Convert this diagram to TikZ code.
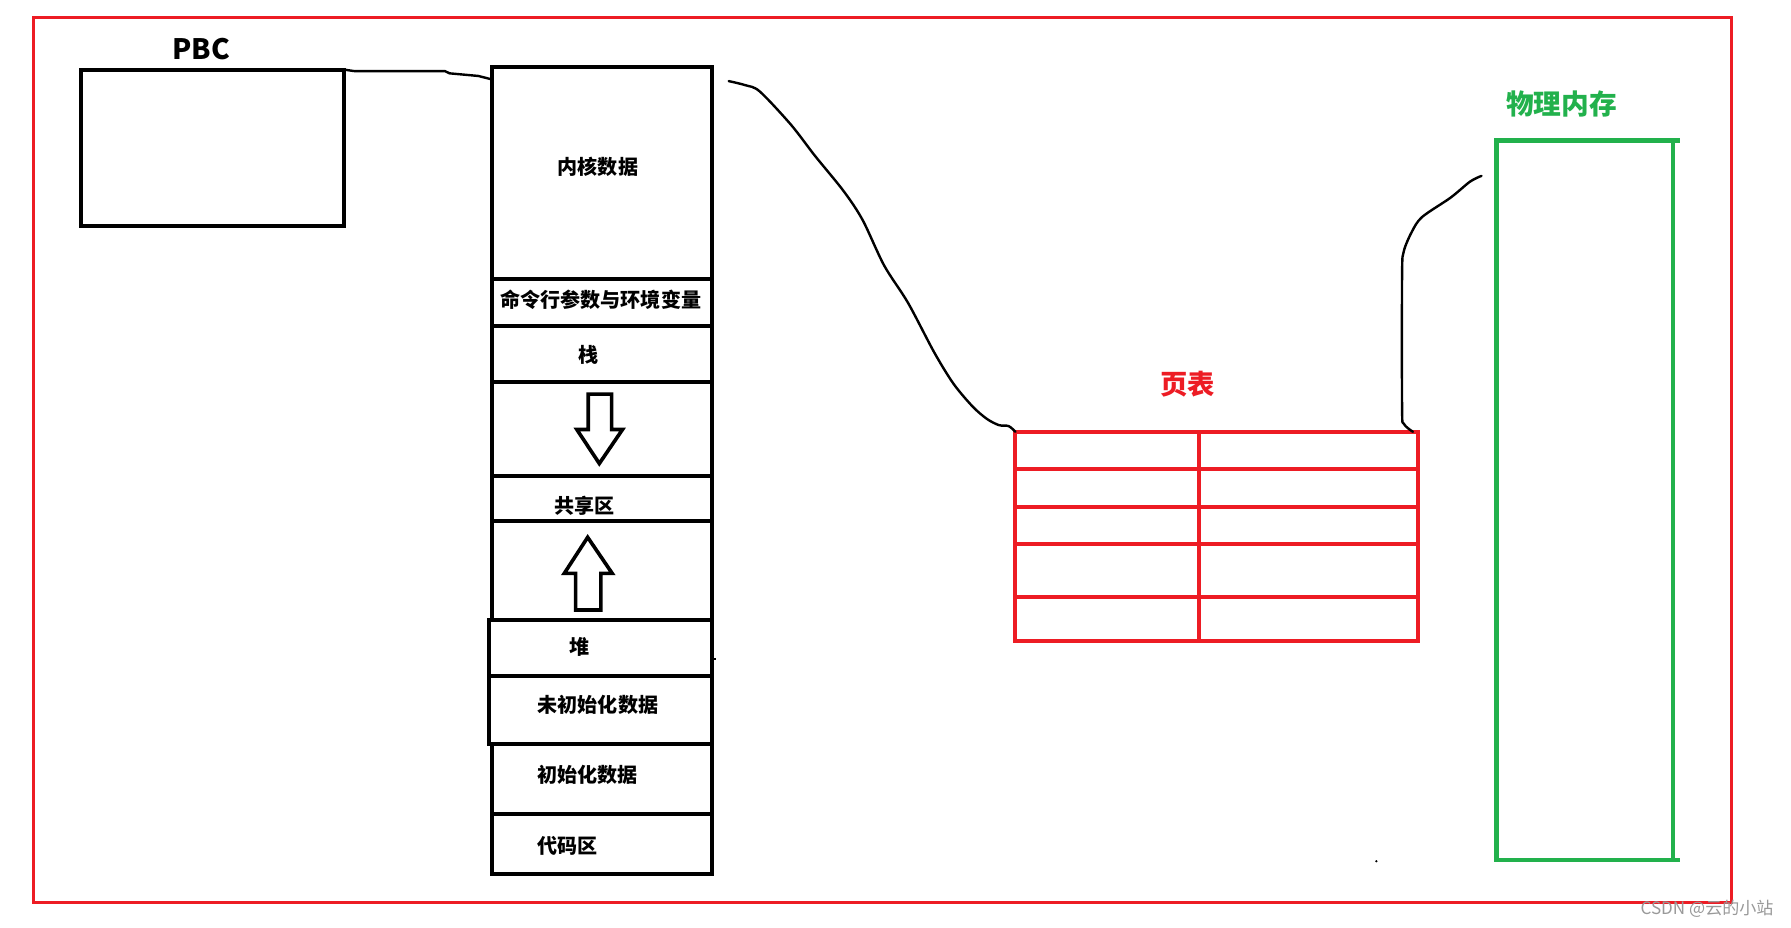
\documentclass[tikz,border=0pt]{standalone}
\usepackage{fontspec}
\newfontfamily\cjk{Noto Sans CJK SC}
\usetikzlibrary{fit}
\definecolor{pred}{HTML}{ED1C24}
\definecolor{pgreen}{HTML}{22B14C}
\tikzset{
  blk/.style={draw=black, line width=2pt, inner sep=0pt, outer sep=0pt},
  lbl/.style={font=\cjk\bfseries\fontsize{10}{12}\selectfont, inner sep=0pt},
  wire/.style={draw=black, line width=1.2pt, line cap=round, line join=round},
  tbl/.style={draw=pred, line width=2pt},
  hollow/.style={draw=black, line width=1.8pt, fill=white, line join=miter},
  grn/.style={draw=pgreen, line width=2.2pt},
}
\begin{document}
\begin{tikzpicture}[x=0.02cm,y=-0.02cm]
\useasboundingbox (0,0) rectangle (1568,812);
\fill[white] (0,0) rectangle (1568,812);
% outer red frame
\draw[pred, line width=1.4pt] (29.5,15.5) rectangle (1516,790);

% PBC
\node[blk, fit={(71,61) (301.5,197.5)}] (pbc) {};
\node[font=\cjk\bfseries\fontsize{14}{16}\selectfont, inner sep=0pt] (pbct) at (176,42.5) {PBC};

% address space column
\node[blk, fit={(430.5,59) (623.5,244)}] (kern) {};
\node[blk, fit={(430.5,244) (623.5,285)}] (cmd) {};
\node[blk, fit={(430.5,285) (623.5,334)}] (stk) {};
\node[blk, fit={(430.5,334) (623.5,416.5)}] (gapa) {};
\node[blk, fit={(430.5,416.5) (623.5,456.5)}] (shr) {};
\node[blk, fit={(430.5,456.5) (623.5,543)}] (gapb) {};
\node[blk, fit={(428,543) (623.5,591.5)}] (heap) {};
\node[blk, fit={(428,591.5) (623.5,651.5)}] (bss) {};
\node[blk, fit={(430.5,651.5) (623.5,712.5)}] (data) {};
\node[blk, fit={(430.5,712.5) (623.5,765.5)}] (code) {};
\draw[line width=1.2pt] (heap.east |- 0,577) -- ++(3,0);

\node[lbl] (tkern) at (523.5,146) {内核数据};
\node[lbl] (tcmd) at (526,262.5) {命令行参数与环境变量};
\node[lbl] (tstk) at (515,311) {栈};
\node[lbl] (tshr) at (512,443) {共享区};
\node[lbl] (theap) at (507,566.5) {堆};
\node[lbl] (tbss) at (523.5,617.5) {未初始化数据};
\node[lbl] (tdata) at (514.5,678.5) {初始化数据};
\node[lbl] (tcode) at (497,740.5) {代码区};

% growth arrows
\draw[hollow] (515,345) -- (535.5,345) -- (535.5,376) -- (545,376) -- (524.7,405.8) -- (505,376) -- (515,376) -- cycle;
\draw[hollow] (514.5,470.4) -- (536,502) -- (526,502) -- (526,534) -- (504,534) -- (504,502) -- (494,502) -- cycle;

% page table
\node[tbl, inner sep=0pt, outer sep=0pt, fit={(889,378) (1241,561)}] (pt) {};
\draw[tbl] (pt.north -| 1049.8,0) -- (pt.south -| 1049.8,0);
\foreach \y in {410.3,444.1,476.4,522.9} \draw[tbl] (pt.west |- 0,\y) -- (pt.east |- 0,\y);
\node[font=\cjk\bfseries\fontsize{13.6}{16}\selectfont, text=pred, inner sep=0pt] (ptl) at (1040,336) {页表};

% physical memory
\node[grn, inner sep=0pt, outer sep=0pt, fit={(1310,123) (1464.5,753)}] (pm) {};
\draw[grn] (pm.north east) -- ++(6.5,0);
\draw[grn] (pm.south east) -- ++(6.5,0);
\node[font=\cjk\bfseries\fontsize{13.8}{16}\selectfont, text=pgreen, inner sep=0pt] (pml) at (1367,91) {物理内存};

% connectors
\draw[wire] (pbc.north east) -- (310,62.2) -- (389.4,62.2) -- (393.6,64.2) -- (418.8,66.5) -- ([shift={(0,10.5)}]kern.north west);

\coordinate (ka) at (638,71);
\draw[wire] plot[smooth, tension=0.5] coordinates {(ka) (652.6,74.6) (665.2,80.1) (692.4,109.1) (713.4,136.3) (738.5,167.2) (755.2,192.6) (774.1,232.5) (795,265.2) (818,308.7) (834.8,336) (851.5,355.9) (864.1,366.8) (874.6,372.2) (883,373) (pt.north west)};

\coordinate (pa) at (1297,154);
\draw[wire] plot[smooth, tension=0.5] coordinates {([shift={(-4,0)}]pt.north east) (1229,371) (1227.5,357) (1227.5,240) (1229,220) (1236,203) (1245,190) (1270,173) (1287,159) (pa)};

\fill (1205,754) circle (0.6pt);

% watermark
\node[font=\cjk\fontsize{8.5}{10}\selectfont, text=black!40, anchor=east, inner sep=0pt] (wm) at (1553,796) {CSDN @云的小站};
\end{tikzpicture}
\end{document}
